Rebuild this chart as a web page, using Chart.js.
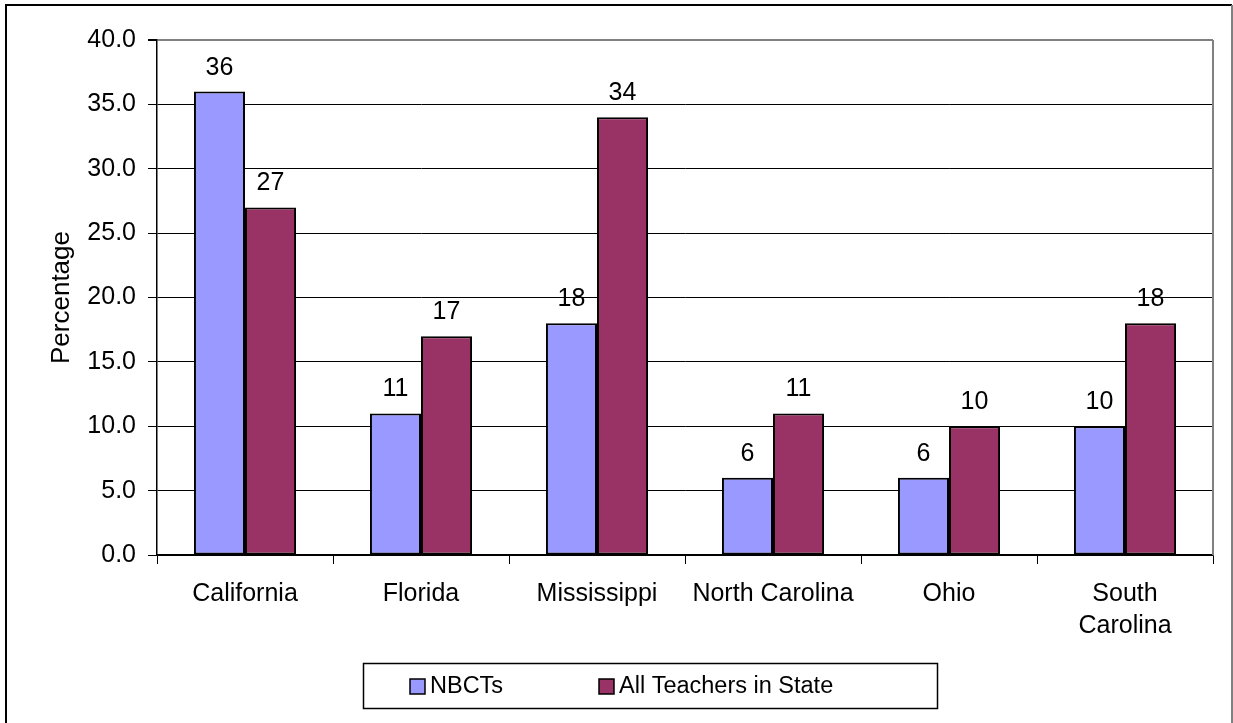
<!DOCTYPE html>
<html>
<head>
<meta charset="utf-8">
<title>NBCTs vs All Teachers</title>
<script src="https://cdn.jsdelivr.net/npm/chart.js@4.4.0/dist/chart.umd.min.js"></script>
<style>
  html, body { margin: 0; padding: 0; background: #ffffff; }
  #wrap { width: 1233px; height: 723px; }
</style>
</head>
<body>
<div id="wrap"><canvas id="grafico" width="1233" height="723"></canvas></div>
<script>
// Datos del gráfico
const estados = ['California', 'Florida', 'Mississippi', 'North Carolina', 'Ohio', ['South', 'Carolina']];
const nbcts = [36, 11, 18, 6, 6, 10];
const todosMaestros = [27, 17, 34, 11, 10, 18];
const ticksY = [0, 5, 10, 15, 20, 25, 30, 35, 40];

const FUENTE = '"Liberation Sans", Arial, sans-serif';

// Marco del gráfico, borde derecho del área y etiquetas sobre las barras
const extras = {
  id: 'extras',
  beforeDraw(chart) {
    const c = chart.ctx;
    c.save();
    c.fillStyle = '#ffffff';
    c.fillRect(0, 0, chart.width, chart.height);
    c.strokeStyle = '#000000';
    c.lineWidth = 2;
    c.beginPath();
    c.moveTo(6, chart.height);
    c.lineTo(6, 5);
    c.lineTo(1232, 5);
    c.stroke();
    c.strokeStyle = '#808080';
    c.beginPath();
    c.moveTo(1232, 5);
    c.lineTo(1232, chart.height);
    c.stroke();
    c.restore();
  },
  afterDatasetsDraw(chart) {
    const c = chart.ctx;
    const area = chart.chartArea;
    c.save();
    // borde derecho gris del área de trazado
    c.strokeStyle = '#808080';
    c.lineWidth = 2;
    c.beginPath();
    c.moveTo(area.right, area.top);
    c.lineTo(area.right, area.bottom);
    c.stroke();

    // etiquetas de valores
    c.fillStyle = '#000000';
    c.font = '25px ' + FUENTE;
    c.textAlign = 'center';
    c.textBaseline = 'alphabetic';
    chart.data.datasets.forEach((ds, i) => {
      chart.getDatasetMeta(i).data.forEach((bar, j) => {
        c.fillText(String(ds.data[j]), bar.x, bar.y - 17);
      });
    });

    // leyenda con recuadro
    c.strokeStyle = '#000000';
    c.lineWidth = 1.5;
    c.strokeRect(363.5, 663.5, 574, 45);
    const items = [{ x: 410 }, { x: 599 }];
    c.font = '23.5px ' + FUENTE;
    c.textAlign = 'left';
    c.textBaseline = 'middle';
    chart.data.datasets.forEach((ds, i) => {
      const x = items[i].x;
      c.fillStyle = ds.backgroundColor;
      c.fillRect(x, 679, 15, 15);
      c.strokeStyle = '#000000';
      c.lineWidth = 1.5;
      c.strokeRect(x, 679, 15, 15);
      c.fillStyle = '#000000';
      c.fillText(ds.label, x + 20, 687);
    });
    c.restore();
  }
};

new Chart(document.getElementById('grafico').getContext('2d'), {
  type: 'bar',
  data: {
    labels: estados,
    datasets: [
      {
        label: 'NBCTs',
        data: nbcts,
        backgroundColor: '#9999FF',
        borderColor: '#000000',
        borderWidth: 2,
        borderSkipped: false,
        barPercentage: 1,
        categoryPercentage: 0.58
      },
      {
        label: 'All Teachers in State',
        data: todosMaestros,
        backgroundColor: '#993366',
        borderColor: '#000000',
        borderWidth: 2,
        borderSkipped: false,
        barPercentage: 1,
        categoryPercentage: 0.58
      }
    ]
  },
  options: {
    responsive: false,
    animation: false,
    devicePixelRatio: 1,
    layout: { padding: { left: 0, right: 20, top: 40, bottom: 0 } },
    plugins: {
      legend: { display: false },
      tooltip: { enabled: false }
    },
    scales: {
      x: {
        afterFit(scale) { scale.height = 168; },
        grid: {
          drawOnChartArea: false,
          drawTicks: true,
          tickLength: 9,
          tickColor: '#000000'
        },
        border: { color: '#000000', width: 1.5 },
        ticks: {
          color: '#000000',
          padding: 14,
          font: { family: FUENTE, size: 25, lineHeight: 1.28 },
          maxRotation: 0,
          autoSkip: false
        }
      },
      y: {
        min: 0,
        max: 40,
        afterFit(scale) { scale.width = 157; },
        afterBuildTicks(scale) { scale.ticks = ticksY.map(v => ({ value: v })); },
        grid: {
          color: ctx => (ctx.tick && ctx.tick.value === 40 ? '#808080' : '#000000'),
          lineWidth: ctx => (ctx.tick && ctx.tick.value === 40 ? 2 : 1),
          tickLength: 9,
          tickColor: '#000000'
        },
        border: { color: '#000000', width: 1.5 },
        ticks: {
          color: '#000000',
          padding: 12,
          font: { family: FUENTE, size: 25 },
          callback: v => Number(v).toFixed(1)
        },
        title: {
          display: true,
          text: 'Percentage',
          color: '#000000',
          font: { family: FUENTE, size: 26 },
          padding: { top: 46 }
        }
      }
    }
  },
  plugins: [extras]
});
</script>
</body>
</html>
